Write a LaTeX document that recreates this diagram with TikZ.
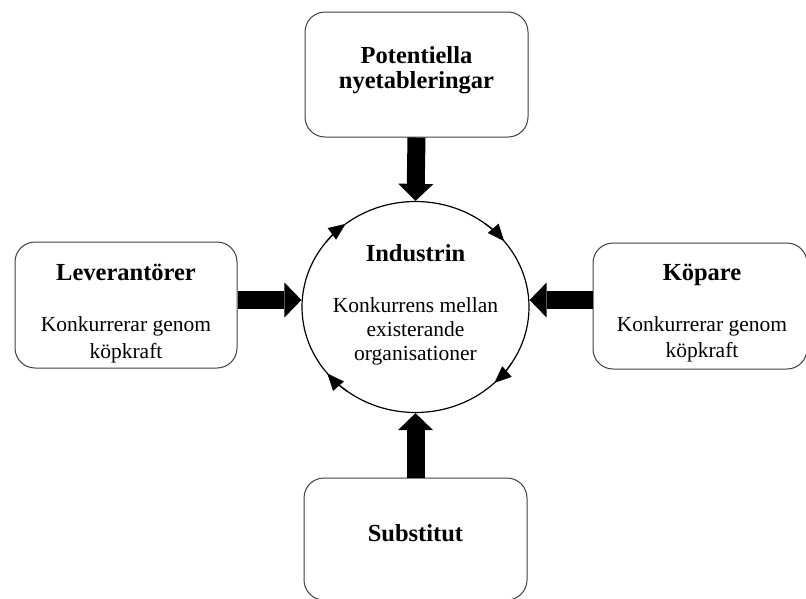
\documentclass[tikz,border=0pt]{standalone}
\usepackage{fontspec}
\setmainfont{Liberation Serif}
\usetikzlibrary{arrows.meta,shapes.geometric,calc}
\begin{document}
\begin{tikzpicture}[x=1pt,y=-1pt,
  box/.style={draw=black!75, line width=1pt, rounded corners=20pt, inner sep=0pt},
  head/.style={font=\fontsize{24.5}{28}\selectfont\bfseries, anchor=base, inner sep=0pt},
  body/.style={font=\fontsize{21.5}{24}\selectfont, anchor=base, inner sep=0pt},
  blockarrow/.style={line width=18pt, -{Triangle[length=17pt,width=35pt,line width=0pt]}},
  cyc/.style={line width=1.2pt, -{Triangle[length=17pt,width=14pt]}}]
\useasboundingbox (0,0) rectangle (806,598);
\clip (0,0) rectangle (806,598);
\fill[white] (0,0) rectangle (806,598);

% boxes
\node[box, minimum width=223pt, minimum height=125pt] (pot) at (416.5,74.5) {};
\node[box, minimum width=222pt, minimum height=126pt] (lev) at (126,305) {};
\node[box, minimum width=214pt, minimum height=126pt] (kop) at (700,306) {};
\node[box, minimum width=223pt, minimum height=122pt] (sub) at (415.5,539) {};
\node[draw, ellipse, line width=1.2pt, minimum width=227pt, minimum height=211pt, inner sep=0pt] (ind) at (415.5,307) {};

% texts
\node[head] (potA) at (416.5,63) {Potentiella};
\node[head] (potB) at (416.5,88) {nyetableringar};
\node[head] (indA) at (415.5,261) {Industrin};
\node[body] (indB) at (415.5,312) {Konkurrens mellan};
\node[body] (indC) at (415.5,336.5) {existerande};
\node[body] (indD) at (415.5,360.5) {organisationer};
\node[head] (levA) at (126,280) {Leverantörer};
\begin{scope}
\clip (15,240) rectangle (237,362);
\node[body] (levB) at (126,331.5) {Konkurrerar genom};
\node[body] (levC) at (126,358) {köpkraft};
\end{scope}
\node[head] (kopA) at (702,280) {Köpare};
\begin{scope}
\clip (593,240) rectangle (806,362);
\node[body] (kopB) at (702,331) {Konkurrerar genom};
\node[body] (kopC) at (702,357.5) {köpkraft};
\end{scope}
\node[head] (subA) at (415.5,541.5) {Substitut};

% block arrows
\draw[blockarrow] (pot.south) -- (ind.north);
\draw[blockarrow] (sub.north) -- (ind.south);
\draw[blockarrow] ([yshift=5pt]lev.east) -- ([yshift=7pt]ind.west);
\draw[blockarrow] ([yshift=6pt]kop.west) -- ([yshift=7pt]ind.east);

% cycle arrows (clockwise)
\draw[cyc] ($(ind.center)+(142:113.5pt and 105.5pt)$) arc[start angle=142, end angle=128, x radius=113.5pt, y radius=105.5pt];
\draw[cyc] ($(ind.center)+(52:113.5pt and 105.5pt)$) arc[start angle=52, end angle=38.6, x radius=113.5pt, y radius=105.5pt];
\draw[cyc] ($(ind.center)+(-32:113.5pt and 105.5pt)$) arc[start angle=-32, end angle=-46, x radius=113.5pt, y radius=105.5pt];
\draw[cyc] ($(ind.center)+(233:113.5pt and 105.5pt)$) arc[start angle=233, end angle=219, x radius=113.5pt, y radius=105.5pt];
\end{tikzpicture}
\end{document}
